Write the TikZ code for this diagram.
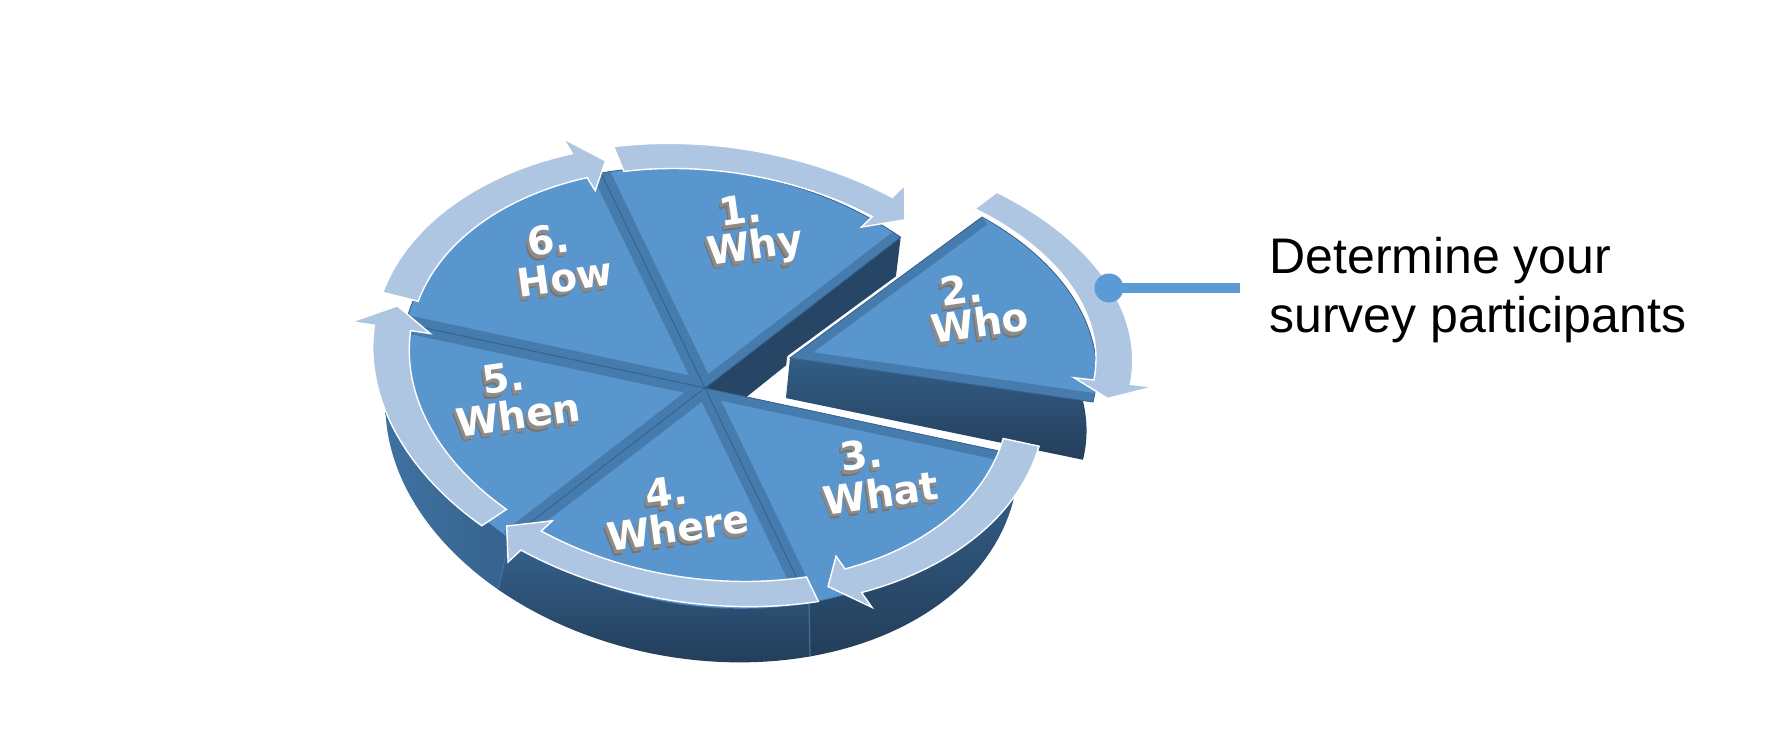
\documentclass[tikz,border=0pt]{standalone}
\usepackage{fontspec}
\setmainfont{Liberation Sans}
\newfontfamily\lblfont{DejaVu Sans}
\definecolor{topblue}{HTML}{5A96CE}
\definecolor{bevelc}{HTML}{34628F}
\definecolor{ringblue}{HTML}{AFC6E3}
\definecolor{sidedark}{HTML}{233E5A}
\definecolor{sidemid}{HTML}{36638E}
\definecolor{sidelight}{HTML}{3F71A1}
\definecolor{callblue}{HTML}{5B9BD5}
\definecolor{extr}{HTML}{8C8C8C}
\definecolor{extrdark}{HTML}{737373}
\newcommand\extruded[1]{\leavevmode
  \rlap{\color{extrdark}\kern-1.6pt\raisebox{-2.4pt}{#1}}%
  \rlap{\color{extr}\kern-1.2pt\raisebox{-1.8pt}{#1}}%
  \rlap{\color{extr}\kern-0.8pt\raisebox{-1.2pt}{#1}}%
  \rlap{\color{extr}\kern-0.4pt\raisebox{-0.6pt}{#1}}%
  #1}
\begin{document}
\begin{tikzpicture}[x=0.5pt,y=-0.5pt,
  topface/.style={fill=topblue,draw=bevelc,line width=0.4pt},
  bevelstroke/.style={draw=bevelc,line width=9pt,opacity=0.5},
  arrowband/.style={fill=ringblue,draw=white,line width=0.7pt},
  lbl/.style={font=\lblfont\bfseries\fontsize{19.5}{20}\selectfont,text=white,inner sep=0,anchor=base,rotate=8},
  plaintext/.style={font=\fontsize{25}{30}\selectfont,inner sep=0,anchor=base west}]
\useasboundingbox (0,0) rectangle (1777,737);

% ---------- main pie ----------
\begin{scope}[shift={(705,388)},x={(143pt,25pt)},y={(-52pt,107.5pt)}]
  % side faces
  \path[left color=sidelight,right color=sidemid]
    plot[domain=150:210,samples=30] (\x:1) --
    plot[domain=210:150,samples=30] ({-0.08+1.04*cos(\x)},{-0.19+1.04*sin(\x)}) -- cycle;
  \path[top color=sidemid,bottom color=sidedark]
    plot[domain=210:270,samples=30] (\x:1) --
    plot[domain=270:210,samples=30] ({-0.08+1.04*cos(\x)},{-0.19+1.04*sin(\x)}) -- cycle;
  \path[top color=sidemid,bottom color=sidedark]
    plot[domain=270:330,samples=30] (\x:1) --
    plot[domain=330:270,samples=30] ({-0.08+1.04*cos(\x)},{-0.19+1.04*sin(\x)}) -- cycle;
  % seams on the side
  \draw[sidelight,line width=0.6pt] (210:1) -- ({-0.08+1.04*cos(210)},{-0.19+1.04*sin(210)});
  \draw[sidelight,line width=0.6pt] (270:1) -- ({-0.08+1.04*cos(270)},{-0.19+1.04*sin(270)});
  % radial face of Why, visible through the gap
  \fill[sidedark!80!sidemid] (0,0) -- (0.866,0.5) -- (0.788,0.332) -- (-0.08,-0.19) -- cycle;
  % top faces
  \foreach \a/\b in {90/150,30/90,150/210,210/270,270/330}{
    \fill[topface] (0,0) -- plot[domain=\a:\b,samples=30] (\x:1) -- cycle;
    \begin{scope}
      \clip (0,0) -- plot[domain=\a:\b,samples=30] (\x:1) -- cycle;
      \draw[bevelstroke] (\a:1) -- (0,0) -- (\b:1);
    \end{scope}
  }
\end{scope}

% ---------- exploded slice: Who ----------
\begin{scope}[shift={(790,358)},x={(142.9pt,28pt)},y={(-55.5pt,92.5pt)}]
  \draw[white,line width=3pt,line join=round]
    (0,0) -- plot[domain=-30:-12,samples=20] (\x:1) --
    plot[domain=-12:-30,samples=20] ({-0.14+cos(\x)},{-0.27+sin(\x)}) -- (-0.088,-0.19) -- cycle;
  \draw[white,line width=3pt,line join=round]
    (0,0) -- plot[domain=-30:30,samples=40] (\x:1) -- cycle;
  \path[top color=sidemid,bottom color=sidedark]
    (0,0) -- plot[domain=-30:-12,samples=20] (\x:1) --
    plot[domain=-12:-30,samples=20] ({-0.14+cos(\x)},{-0.27+sin(\x)}) -- (-0.088,-0.19) -- cycle;
  \fill[topface] (0,0) -- plot[domain=-30:30,samples=40] (\x:1) -- cycle;
  \begin{scope}
    \clip (0,0) -- plot[domain=-30:30,samples=40] (\x:1) -- cycle;
    \draw[bevelstroke] (-30:1) -- (0,0) -- (30:1);
  \end{scope}
\end{scope}

% ---------- cycle arrows ----------
\begin{scope}[shift={(709,375)},x={(143pt,23.75pt)},y={(-52pt,102.1pt)}]
  \foreach \t/\b/\p in {146/94/89,86.5/37/32,-31/-83/-88,-91/-144/-149.5,207.5/154.5/148.5}{
    \fill[arrowband] plot[domain=\t:\b,samples=40] (\x:1.105) -- (\b:1.18) -- (\p:1.045)
      -- (\b:0.92) -- plot[domain=\b:\t,samples=40] (\x:0.985) -- cycle;
  }
\end{scope}
\begin{scope}[shift={(794,345)},x={(142.9pt,26.6pt)},y={(-55.5pt,87.9pt)}]
  \fill[arrowband] plot[domain=32:-28,samples=40] (\x:1.105) -- (-28:1.18) -- (-33:1.045)
      -- (-28:0.92) -- plot[domain=-28:32,samples=40] (\x:0.985) -- cycle;
\end{scope}

% ---------- labels ----------
\node[lbl] (n1) at (742,224) {\extruded{1.}};
\node[lbl] (w1) at (757,259) {\extruded{Why}};
\node[lbl] (n2) at (963,304) {\extruded{2.}};
\node[lbl] (w2) at (982,337) {\extruded{Who}};
\node[lbl] (n3) at (863,469) {\extruded{3.}};
\node[lbl] (w3) at (883,507) {\extruded{What}};
\node[lbl] (n4) at (668,506) {\extruded{4.}};
\node[lbl] (w4) at (680,542) {\extruded{Where}};
\node[lbl] (n5) at (505,392) {\extruded{5.}};
\node[lbl] (w5) at (520,429) {\extruded{When}};
\node[lbl] (n6) at (550,254) {\extruded{6.}};
\node[lbl] (w6) at (567,291) {\extruded{How}};

% ---------- callout ----------
\node[circle,fill=callblue,minimum size=14.5pt,inner sep=0] (dot) at (1109,288) {};
\coordinate (lend) at (1240,288);
\draw[callblue,line width=4.7pt] (dot.center) -- (lend);
\node[plaintext] (t1) at (1269,274) {Determine your};
\node[plaintext] (t2) at (1269,333) {survey participants};
\end{tikzpicture}
\end{document}
